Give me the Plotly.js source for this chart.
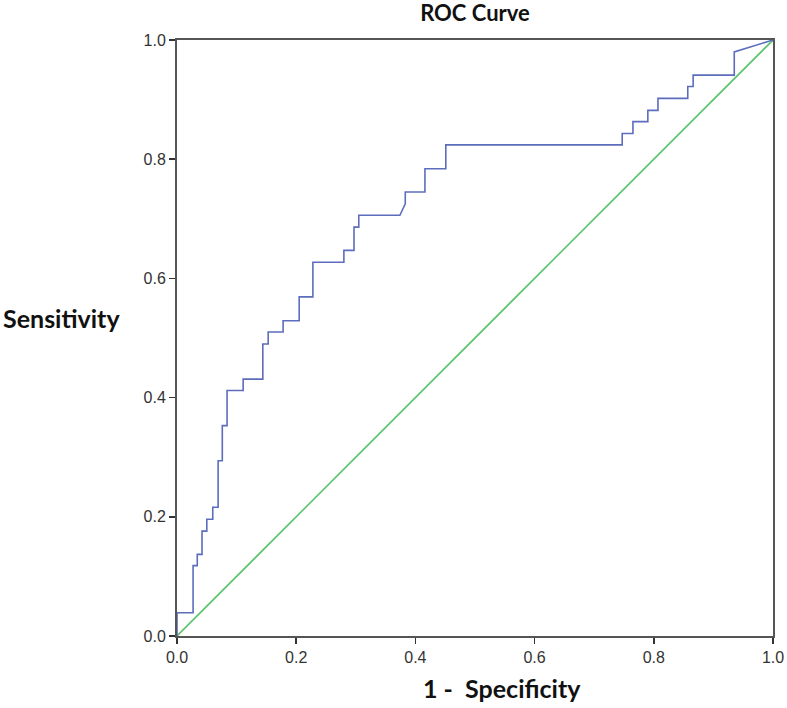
<!DOCTYPE html>
<html>
<head>
<meta charset="utf-8">
<script src="https://cdn.plot.ly/plotly-3.0.1.min.js"></script>
<style>html,body{margin:0;padding:0;background:#fff;}#chart{width:787px;height:708px;}</style>
</head>
<body>
<div id="chart"></div>
<script>
// ROC curve corner points (1 - specificity, sensitivity)
const fpr = [0, 0, 0.027, 0.027, 0.034, 0.034, 0.042, 0.042, 0.050, 0.050, 0.060, 0.060, 0.069, 0.069,
  0.076, 0.076, 0.084, 0.084, 0.111, 0.111, 0.144, 0.144, 0.153, 0.153, 0.178, 0.178, 0.205, 0.205,
  0.228, 0.228, 0.280, 0.280, 0.297, 0.297, 0.305, 0.305, 0.374, 0.383, 0.383, 0.416, 0.416, 0.451,
  0.451, 0.747, 0.747, 0.765, 0.765, 0.790, 0.790, 0.807, 0.807, 0.857, 0.857, 0.866, 0.866, 0.935,
  0.935, 1.0];
const tpr = [0, 0.039, 0.039, 0.118, 0.118, 0.137, 0.137, 0.176, 0.176, 0.196, 0.196, 0.216, 0.216, 0.294,
  0.294, 0.353, 0.353, 0.412, 0.412, 0.431, 0.431, 0.490, 0.490, 0.510, 0.510, 0.529, 0.529, 0.569,
  0.569, 0.627, 0.627, 0.647, 0.647, 0.686, 0.686, 0.706, 0.706, 0.725, 0.745, 0.745, 0.784, 0.784,
  0.824, 0.824, 0.843, 0.843, 0.863, 0.863, 0.882, 0.882, 0.902, 0.902, 0.922, 0.922, 0.941, 0.941,
  0.980, 1.0];
// Reference (chance) line
const refX = [0, 1];
const refY = [0, 1];
const tickVals = [0, 0.2, 0.4, 0.6, 0.8, 1.0];
const tickText = ["0.0", "0.2", "0.4", "0.6", "0.8", "1.0"];
const titleText = "ROC Curve";
const xTitle = "1 -  Specificity";
const yTitle = "Sensitivity";

const traces = [
  {x: refX, y: refY, mode: "lines", line: {color: "#5cc36c", width: 1.6}, hoverinfo: "skip"},
  {x: fpr, y: tpr, mode: "lines", line: {color: "#5d6dbd", width: 1.6}}
];
const axisCommon = {
  range: [0, 1], tickvals: tickVals, ticktext: tickText,
  showgrid: false, zeroline: false, showline: true, mirror: true,
  linecolor: "#555", linewidth: 2, ticks: "outside", ticklen: 6, tickwidth: 1.5, tickcolor: "#333",
  tickfont: {family: "Liberation Sans, Arial", size: 16, color: "#333"}, fixedrange: true
};
const layout = {
  width: 787, height: 708,
  margin: {l: 177, r: 14, t: 40, b: 72},
  paper_bgcolor: "#fff", plot_bgcolor: "#fff",
  showlegend: false,
  title: {text: "<b>" + titleText + "</b>", x: 0.5, xref: "paper", xanchor: "center", yref: "container", y: 0.981, yanchor: "middle",
    font: {family: "Lato, Open Sans, sans-serif", size: 22, color: "#111"}},
  xaxis: Object.assign({}, axisCommon),
  yaxis: Object.assign({}, axisCommon),
  annotations: [
    {text: "<b>" + xTitle + "</b>", xref: "paper", yref: "paper", x: 0.545, y: -0.088, xanchor: "center", yanchor: "middle",
      showarrow: false, font: {family: "Lato, Open Sans, sans-serif", size: 25, color: "#111"}},
    {text: "<b>" + yTitle + "</b>", xref: "paper", yref: "paper", x: -0.295, y: 0.533, xanchor: "left", yanchor: "middle",
      showarrow: false, font: {family: "Lato, Open Sans, sans-serif", size: 25, color: "#111"}}
  ]
};
Plotly.newPlot("chart", traces, layout, {displayModeBar: false, staticPlot: true});
</script>
</body>
</html>
